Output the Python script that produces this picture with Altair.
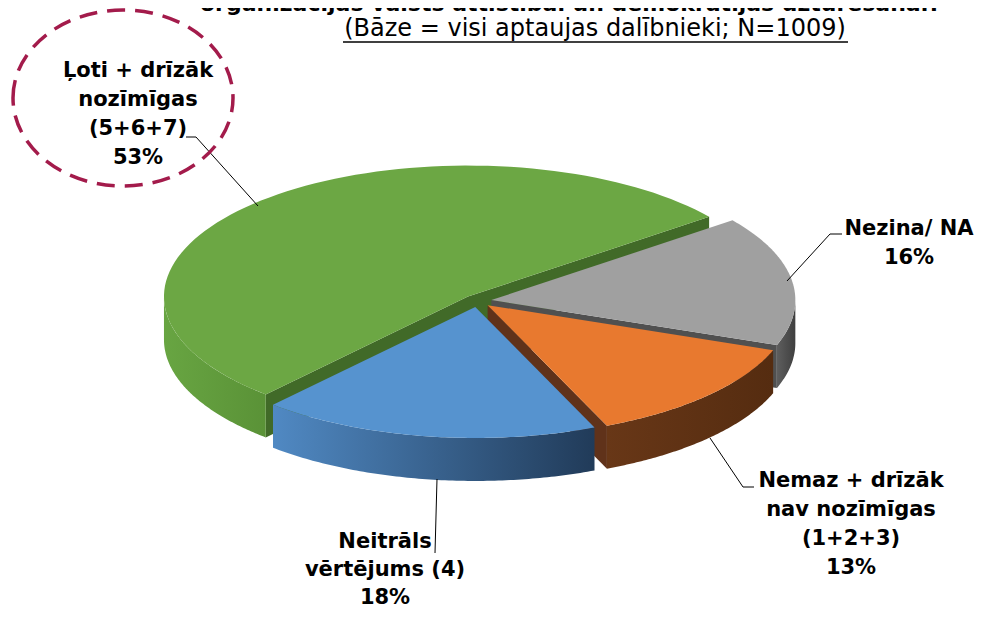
import altair as alt
import pandas as pd

# ---------------- data ----------------
categories = ["Ļoti + drīzāk nozīmīgas (5+6+7)", "Nezina/ NA",
              "Nemaz + drīzāk nav nozīmīgas (1+2+3)", "Neitrāls vērtējums (4)"]
values = [53, 16, 13, 18]
label_lines = [["Ļoti + drīzāk", "nozīmīgas", "(5+6+7)"],
               ["Nezina/ NA"],
               ["Nemaz + drīzāk", "nav nozīmīgas", "(1+2+3)"],
               ["Neitrāls", "vērtējums (4)"]]
title_line1 = "organizācijas valsts attīstībai un demokrātijas uzturēšanai?"
title_line2 = "(Bāze = visi aptaujas dalībnieki; N=1009)"

# ---------------- style ----------------
top_colors = ["#6ca744", "#a0a0a0", "#e8792f", "#5693cf"]
face_colors = ["#416a28", "#505050", "#60321a", "#2c4a6e"]
wall_grad = [("#68a542", "#5a9237"), ("#5e5e5e", "#3f3f3f"),
             ("#683717", "#552c10"), ("#5089c3", "#213b59")]
FONT = "DejaVu Sans"

# pie geometry (pixel space of the page)
CX, CY = 477.5, 301.0
RA, RB = 304.0, 131.0
EXPL, DEPTH = 14.0, 43.0
START = 228.3
N = 90

xs = alt.Scale(domain=[8, 975], nice=False, zero=False)
ys = alt.Scale(domain=[8, 610], nice=False, zero=False, reverse=True)


def XY(xf="px", yf="py"):
    return dict(x=alt.X(f"{xf}:Q", scale=xs, axis=None),
                y=alt.Y(f"{yf}:Q", scale=ys, axis=None))


pie_df = pd.DataFrame({"cat": categories, "value": values, "ord": list(range(len(values)))})

base = (alt.Chart(pie_df)
        .transform_window(cum="sum(value)", sort=[alt.SortField("ord")], frame=[None, 0])
        .transform_joinaggregate(total="sum(value)")
        .transform_calculate(a0=f"{START} - 360*(datum.cum - datum.value)/datum.total")
        .transform_calculate(a1=f"{START} - 360*datum.cum/datum.total")
        .transform_calculate(mid="(datum.a0 + datum.a1)/2*PI/180")
        .transform_calculate(cx=f"{CX} + {EXPL}*cos(datum.mid)")
        .transform_calculate(cy=f"{CY} - {EXPL*RB/RA}*sin(datum.mid)"))

layers = []

# ---- radial cut faces (front facing only), painter's order ----
faces = (base.transform_calculate(f="[0, 1]")
         .transform_flatten(["f"])
         .transform_calculate(fa="(datum.f == 0 ? datum.a0 : datum.a1)*PI/180")
         .transform_filter("datum.f == 0 ? cos(datum.fa) < 0 : cos(datum.fa) > 0")
         .transform_calculate(depth=f"datum.cy - {RB/2}*sin(datum.fa)")
         .transform_window(rank="row_number()", sort=[alt.SortField("depth")])
         .transform_calculate(k="sequence(0, 4)")
         .transform_flatten(["k"])
         .transform_calculate(px=f"(datum.k == 1 || datum.k == 2) ? datum.cx + {RA}*cos(datum.fa) : datum.cx")
         .transform_calculate(py=f"((datum.k == 1 || datum.k == 2) ? datum.cy - {RB}*sin(datum.fa) : datum.cy) + (datum.k >= 2 ? {DEPTH} : 0)"))
for r in range(1, 6):
    layers.append(
        faces.transform_filter(f"datum.rank == {r}")
        .mark_line(strokeWidth=0)
        .encode(**XY(), order=alt.Order("k:Q"), detail="cat:N",
                fill=alt.Fill("cat:N", scale=alt.Scale(domain=categories, range=face_colors), legend=None))
    )

# ---- outer walls (front part of the rim) ----
walls = (base.transform_calculate(w0="datum.a0 > 180 ? max(datum.a1, 180) : max(datum.a1, -180)")
         .transform_calculate(w1="datum.a0 > 180 ? datum.a0 : min(datum.a0, 0)")
         .transform_filter("datum.w1 > datum.w0")
         .transform_calculate(k=f"sequence(0, {2*N+2})")
         .transform_flatten(["k"])
         .transform_calculate(kk=f"datum.k <= {N} ? datum.k : {2*N+1} - datum.k")
         .transform_calculate(t=f"(datum.w0 + (datum.w1 - datum.w0)*datum.kk/{N})*PI/180")
         .transform_calculate(px=f"datum.cx + {RA}*cos(datum.t)")
         .transform_calculate(py=f"datum.cy - {RB}*sin(datum.t) + (datum.k > {N} ? {DEPTH} : 0)"))
for i, c in enumerate(categories):
    g0, g1 = wall_grad[i]
    grad = {"gradient": "linear", "x1": 0, "y1": 0, "x2": 1, "y2": 0,
            "stops": [{"offset": 0, "color": g0}, {"offset": 1, "color": g1}]}
    layers.append(
        walls.transform_filter(alt.datum.cat == c)
        .mark_line(strokeWidth=0, fill=grad)
        .encode(**XY(), order=alt.Order("k:Q"), detail="cat:N")
    )

# ---- top faces ----
tops = (base.transform_calculate(k=f"sequence(0, {N+2})")
        .transform_flatten(["k"])
        .transform_calculate(t=f"(datum.a0 + (datum.a1 - datum.a0)*(datum.k - 1)/{N})*PI/180")
        .transform_calculate(px=f"datum.k == 0 ? datum.cx : datum.cx + {RA}*cos(datum.t)")
        .transform_calculate(py=f"datum.k == 0 ? datum.cy : datum.cy - {RB}*sin(datum.t)"))
layers.append(
    tops.mark_line(strokeWidth=0)
    .encode(**XY(), order=alt.Order("k:Q"), detail="cat:N",
            fill=alt.Fill("cat:N", scale=alt.Scale(domain=categories, range=top_colors), legend=None))
)

# ---- leader lines ----
leader_pts = [[(186, 137), (196, 137), (258, 206)],
              [(787, 281), (830, 234), (842, 234)],
              [(710, 438), (743, 487), (754, 487)],
              [(437, 479), (435, 553)]]
lead_rows = []
for s, pts in enumerate(leader_pts):
    for j, (x, y) in enumerate(pts):
        lead_rows.append({"seg": s, "j": j, "x": x, "y": y})
layers.append(
    alt.Chart(pd.DataFrame(lead_rows)).mark_line(color="black", strokeWidth=1)
    .encode(**XY("x", "y"), order=alt.Order("j:Q"), detail="seg:N")
)

# ---- labels ----
label_anchor = [(138, 77, 29), (909, 235, 29), (851, 487, 29), (385, 548, 28)]
lab_rows = []
for i, lines in enumerate(label_lines):
    ax, ay, lh = label_anchor[i]
    for j, txt in enumerate(lines + [f"{values[i]}%"]):
        lab_rows.append({"text": txt, "x": ax, "y": ay + j * lh})
layers.append(
    alt.Chart(pd.DataFrame(lab_rows))
    .mark_text(font=FONT, fontSize=21, fontWeight="bold", align="center", baseline="alphabetic", color="black")
    .encode(**XY("x", "y"), text="text:N")
)

# ---- dashed highlight ellipse ----
layers.append(
    alt.Chart(pd.DataFrame({"x": [123], "y": [98]}))
    .mark_point(shape="M -1 0 A 1 0.8 0 1 1 1 0 A 1 0.8 0 1 1 -1 0 Z", size=48400, filled=False,
                color="#a31b4b", strokeWidth=3.5, strokeDash=[18, 10], opacity=1)
    .encode(**XY("x", "y"))
)

# ---- title lines ----
layers.append(
    alt.Chart(pd.DataFrame({"text": [title_line1], "x": [200], "y": [11]}))
    .mark_text(font=FONT, fontSize=22, fontWeight="bold", align="left", baseline="alphabetic", color="black")
    .encode(**XY("x", "y"), text="text:N")
)
layers.append(
    alt.Chart(pd.DataFrame({"text": [title_line2], "x": [595], "y": [36]}))
    .mark_text(font=FONT, fontSize=24, align="center", baseline="alphabetic", color="black")
    .encode(**XY("x", "y"), text="text:N")
)
layers.append(
    alt.Chart(pd.DataFrame({"x": [343], "x2": [848], "y": [42]}))
    .mark_rule(color="black", strokeWidth=1.5)
    .encode(x=alt.X("x:Q", scale=xs, axis=None), x2="x2:Q", y=alt.Y("y:Q", scale=ys, axis=None))
)

chart = (alt.layer(*layers)
         .resolve_scale(fill="independent")
         .properties(width=967, height=602, autosize="none", padding=0)
         .configure_view(stroke=None))

chart.save("out.html", embed_options={"renderer": "svg", "actions": False})
